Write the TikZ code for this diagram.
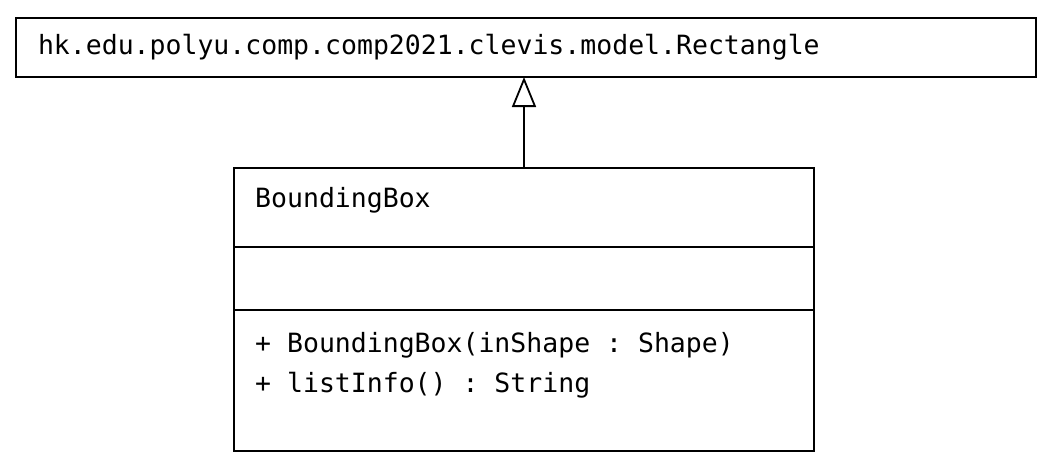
\documentclass[tikz,border=0pt]{standalone}
\usepackage{fontspec}
\setmonofont{DejaVu Sans Mono}
\usetikzlibrary{arrows.meta,positioning,calc}
\tikzset{umlbox/.style={draw,line width=1.8pt,outer sep=0pt,inner sep=0pt},member/.style={font=\ttfamily\fontsize{26.5}{32}\selectfont,inner sep=0pt,anchor=base west},inherit/.style={-{Triangle[open,length=30pt,width=24pt]},line width=1.8pt}}

\begin{document}
\begin{tikzpicture}[x=1pt,y=-1pt]
\fill[white] (0,0) rectangle (1054,474);
\node[umlbox,minimum width=1020pt,minimum height=59pt,text width=976pt,inner xsep=22pt,align=left,font=\ttfamily\fontsize{26.5}{32}\selectfont] (parent) at (526,47.5) {hk.edu.polyu.comp.comp2021.clevis.model.Rectangle};
\node[umlbox,minimum width=580pt,minimum height=79pt,anchor=north] (nameBox) at (524,168) {};
\node[umlbox,minimum width=580pt,minimum height=63pt,below=0pt of nameBox] (attrBox) {};
\node[umlbox,minimum width=580pt,minimum height=141pt,below=0pt of attrBox] (opsBox) {};
\node[member] (className) at ($(nameBox.north west)+(21,39.5)$) {BoundingBox};
\node[member] (opCtor) at ($(opsBox.north west)+(21,42)$) {+ BoundingBox(inShape : Shape)};
\node[member] (opList) at ($(opsBox.north west)+(21,82)$) {+ listInfo() : String};
\draw[inherit] (nameBox.north) -- (nameBox.north |- parent.south);
\end{tikzpicture}
\end{document}
